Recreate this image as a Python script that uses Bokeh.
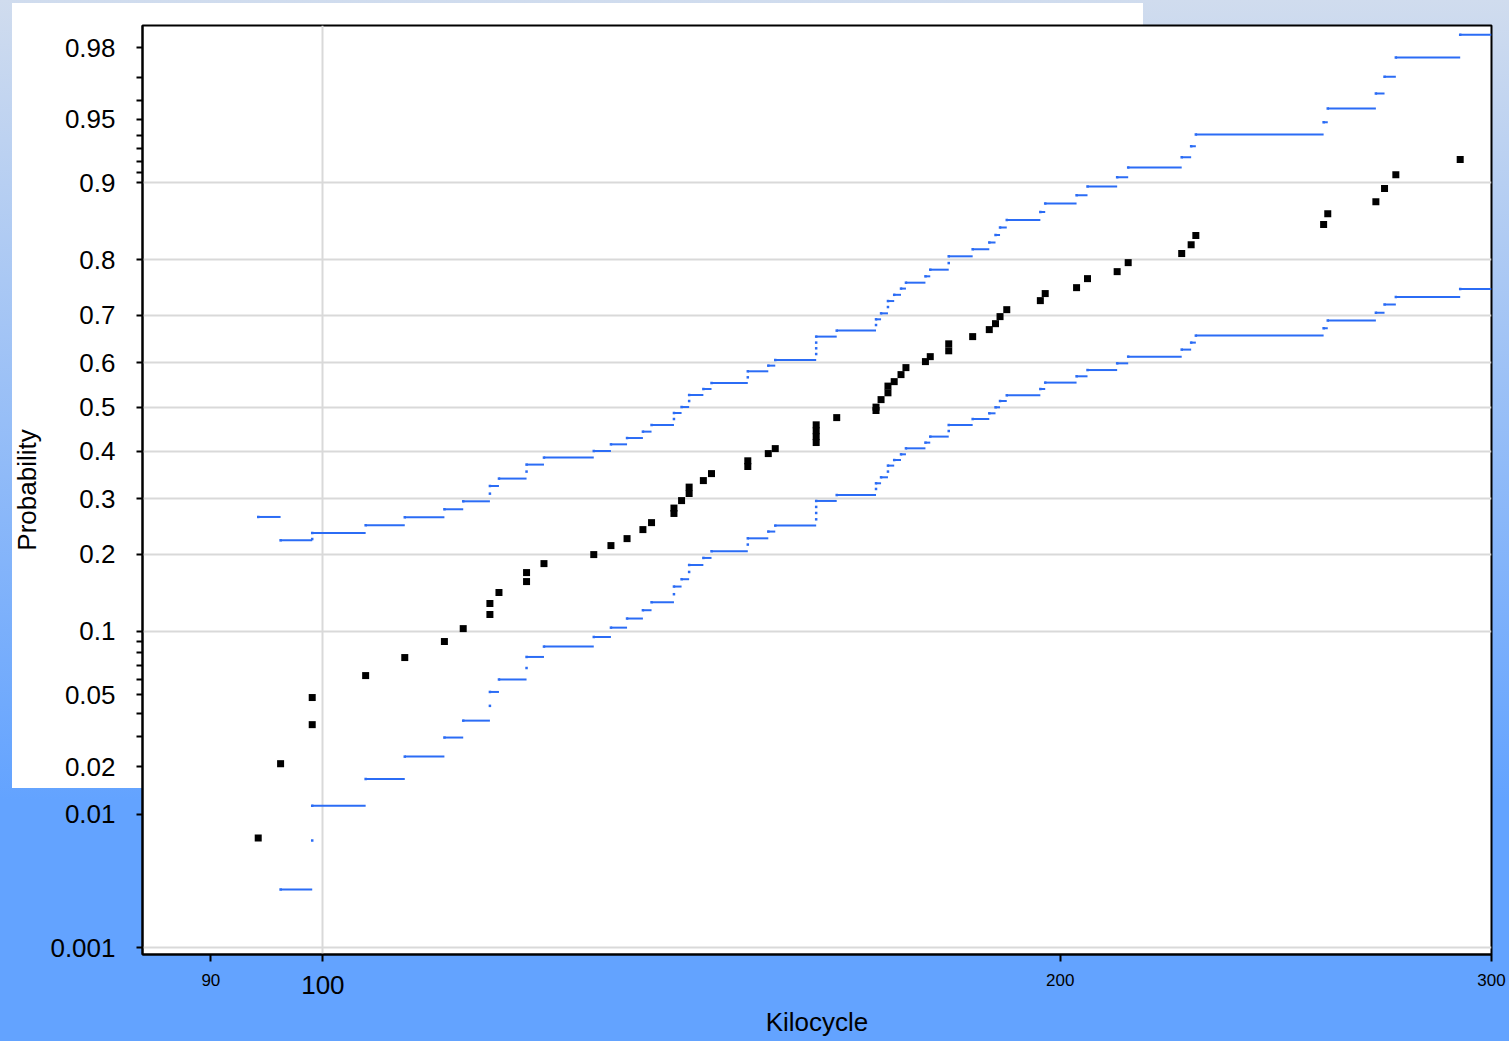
import numpy as np
from statistics import NormalDist

from bokeh.plotting import figure
from bokeh.models import ColumnDataSource, CustomJSTickFormatter, FixedTicker, LogAxis, Range1d
from bokeh.embed import file_html
from bokeh.resources import INLINE

# Failure times (kilocycles) of the plotted units, in order
kilocycles = [
    94.1, 96.1, 99.0, 99.0, 104.1, 108.0, 112.1, 114.1, 117.0, 117.0,
    118.0, 121.1, 121.1, 123.1, 129.0, 131.1, 133.1, 135.1, 136.2, 139.1,
    139.1, 140.1, 141.1, 141.1, 143.0, 144.1, 149.1, 149.1, 152.0, 153.0,
    159.0, 159.0, 159.0, 159.0, 162.1, 168.2, 168.2, 169.0, 170.1, 170.1,
    171.1, 172.2, 173.0, 176.2, 177.0, 180.1, 180.1, 184.2, 187.1, 188.2,
    189.0, 190.2, 196.3, 197.2, 203.1, 205.2, 211.0, 213.2, 224.2, 226.2,
    227.2, 256.2, 257.2, 269.1, 271.3, 274.2, 291.3,
]

# Plotting position (cumulative probability) of each unit
probability = [
    0.0069, 0.0208, 0.0348, 0.0485, 0.0625, 0.0762, 0.0902, 0.1028, 0.1180, 0.1309,
    0.1447, 0.1594, 0.1722, 0.1856, 0.1997, 0.2144, 0.2262, 0.2420, 0.2546, 0.2717,
    0.2820, 0.2966, 0.3108, 0.3238, 0.3373, 0.3520, 0.3672, 0.3795, 0.3953, 0.4063,
    0.4198, 0.4331, 0.4464, 0.4597, 0.4761, 0.4923, 0.5000, 0.5171, 0.5326, 0.5478,
    0.5579, 0.5737, 0.5893, 0.6026, 0.6135, 0.6262, 0.6412, 0.6565, 0.6711, 0.6833,
    0.6975, 0.7112, 0.7286, 0.7418, 0.7526, 0.7686, 0.7806, 0.7955, 0.8099, 0.8234,
    0.8365, 0.8515, 0.8655, 0.8798, 0.8941, 0.9080, 0.9214,
]

# Step confidence band: value held from each unit's time to the next one
upper_bound = [
    0.2651, 0.2233, 0.2255, 0.2360, 0.2498, 0.2645, 0.2797, 0.2952, 0.3105, 0.3261,
    0.3415, 0.3563, 0.3713, 0.3865, 0.4010, 0.4158, 0.4299, 0.4443, 0.4593, 0.4729,
    0.4866, 0.5002, 0.5139, 0.5276, 0.5412, 0.5548, 0.5676, 0.5811, 0.5937, 0.6061,
    0.6192, 0.6316, 0.6438, 0.6565, 0.6690, 0.6805, 0.6921, 0.7040, 0.7163, 0.7278,
    0.7395, 0.7509, 0.7615, 0.7726, 0.7839, 0.7948, 0.8056, 0.8164, 0.8267, 0.8373,
    0.8475, 0.8575, 0.8675, 0.8776, 0.8869, 0.8962, 0.9054, 0.9145, 0.9234, 0.9319,
    0.9403, 0.9482, 0.9561, 0.9635, 0.9705, 0.9771, 0.9833,
]
lower_bound = [
    None, 0.00292, 0.00664, 0.01137, 0.01681, 0.0229, 0.0295, 0.0366, 0.0439, 0.0518,
    0.0598, 0.0680, 0.0767, 0.0856, 0.0945, 0.1038, 0.1135, 0.1229, 0.1324, 0.1425,
    0.1526, 0.1627, 0.1731, 0.1835, 0.1944, 0.2051, 0.2161, 0.2267, 0.2385, 0.2492,
    0.2607, 0.2726, 0.2842, 0.2959, 0.3077, 0.3200, 0.3317, 0.3442, 0.3563, 0.3691,
    0.3812, 0.3937, 0.4069, 0.4196, 0.4331, 0.4457, 0.4593, 0.4729, 0.4859, 0.4996,
    0.5139, 0.5269, 0.5412, 0.5557, 0.5699, 0.5839, 0.5988, 0.6135, 0.6288, 0.6438,
    0.6586, 0.6737, 0.6895, 0.7054, 0.7210, 0.7354, 0.7500,
]

# Axis ticks
prob_ticks = [0.001, 0.01, 0.02, 0.05, 0.1, 0.2, 0.3, 0.4, 0.5, 0.6, 0.7, 0.8, 0.9, 0.95, 0.98]
prob_tick_labels = ["0.001", "0.01", "0.02", "0.05", "0.1", "0.2", "0.3", "0.4", "0.5",
                    "0.6", "0.7", "0.8", "0.9", "0.95", "0.98"]
prob_minor_ticks = [0.03, 0.04, 0.06, 0.07, 0.08, 0.09, 0.91, 0.92, 0.93, 0.94, 0.96, 0.97]
prob_grid = [0.001, 0.1, 0.2, 0.3, 0.4, 0.5, 0.6, 0.7, 0.8, 0.9]
kc_ticks = [90, 100, 200, 300]
kc_tick_labels = ["90", "100", "200", "300"]
kc_big_tick = 100

FONT = "Liberation Sans"
BAND_COLOR = "#2b6cf5"
GRID_COLOR = "#d9d9d9"

_nd = NormalDist()


def probit(values):
    """Normal-probability paper: map cumulative probabilities to z-scores."""
    return np.array([np.nan if v is None else _nd.inv_cdf(v) for v in values], dtype=float)


LABEL_JS = """
    for (let i = 0; i < vals.length; i++) {
        if (Math.abs(vals[i] - tick) < 1e-9) return labels[i];
    }
    return "";
"""

x_start, x_end = 84.4, 300.0
y_start, y_end = _nd.inv_cdf(0.00088), _nd.inv_cdf(0.9854)
p = figure(
    width=1509, height=1041,
    x_axis_type="log",
    x_range=Range1d(x_start, x_end),
    y_range=Range1d(y_start, y_end),
    output_backend="svg", toolbar_location=None,
    min_border_left=142, min_border_right=18, min_border_top=25, min_border_bottom=87,
)
p.border_fill_color = None
p.background_fill_color = "white"
p.outline_line_color = "black"
p.outline_line_width = 2
p.styles = {
    "background": (
        "linear-gradient(#ffffff, #ffffff) 12px 3px / 1131px 785px no-repeat, "
        "linear-gradient(to bottom, #d0dcee 0px, #63a3ff 800px, #63a3ff 100%)"
    )
}

# --- axes -------------------------------------------------------------
xa = p.xaxis[0]          # inner x axis: line, all ticks, large "100"
ya = p.yaxis[0]

big_idx = kc_ticks.index(kc_big_tick)
xa.ticker = FixedTicker(ticks=kc_ticks)
xa.formatter = CustomJSTickFormatter(
    args=dict(vals=[kc_big_tick], labels=[kc_tick_labels[big_idx]]), code=LABEL_JS)

# outer x axis: remaining tick labels in a smaller face, plus the axis title
small_ticks = [t for t in kc_ticks if t != kc_big_tick]
small_labels = [lab for t, lab in zip(kc_ticks, kc_tick_labels) if t != kc_big_tick]
xb = LogAxis(
    ticker=FixedTicker(ticks=small_ticks),
    formatter=CustomJSTickFormatter(args=dict(vals=small_ticks, labels=small_labels), code=LABEL_JS),
)
p.add_layout(xb, "below")

y_tick_z = [float(z) for z in probit(prob_ticks)]
ya.ticker = FixedTicker(ticks=y_tick_z, minor_ticks=[float(z) for z in probit(prob_minor_ticks)])
ya.formatter = CustomJSTickFormatter(args=dict(vals=y_tick_z, labels=prob_tick_labels), code=LABEL_JS)

for ax in (xa, xb, ya):
    ax.axis_line_color = "black"
    ax.axis_line_width = 2
    ax.major_tick_line_width = 2
    ax.minor_tick_line_width = 2
    ax.major_tick_in = 0
    ax.minor_tick_in = 0
    ax.major_label_text_font = FONT
    ax.major_label_text_color = "black"
    ax.axis_label_text_font = FONT
    ax.axis_label_text_font_style = "normal"
    ax.axis_label_text_font_size = "26px"
    ax.axis_label_text_color = "black"

xa.major_tick_out = 7
xa.minor_tick_out = 0
xa.major_label_text_font_size = "26px"
xa.major_label_standoff = 14

xb.axis_line_color = None
xb.major_tick_line_color = None
xb.minor_tick_line_color = None
xb.major_tick_out = 0
xb.minor_tick_out = 0
xb.major_label_text_font_size = "17px"
xb.major_label_standoff = -23
xb.axis_label = "Kilocycle"
xb.axis_label_standoff = 18

ya.major_tick_out = 6
ya.minor_tick_out = 6
ya.major_label_text_font_size = "26px"
ya.major_label_standoff = 21
ya.axis_label = "Probability"
ya.axis_label_standoff = 5

# --- grid -------------------------------------------------------------
p.ygrid.ticker = FixedTicker(ticks=[float(z) for z in probit(prob_grid)])
p.xgrid.ticker = FixedTicker(ticks=[kc_big_tick])
for g in (p.xgrid[0], p.ygrid[0]):
    g.grid_line_color = GRID_COLOR
    g.grid_line_width = 2

# --- confidence band --------------------------------------------------
band = ColumnDataSource(dict(
    x0=np.array(kilocycles, dtype=float),
    x1=np.array(kilocycles[1:] + [x_end], dtype=float),
    up=probit(upper_bound),
    lo=probit(lower_bound),
))
for col in ("up", "lo"):
    p.segment(x0="x0", y0=col, x1="x1", y1=col, source=band,
              line_color=BAND_COLOR, line_width=2)
    p.scatter(x="x0", y=col, source=band, marker="square", size=2.5,
              fill_color=BAND_COLOR, line_color=None)

# --- observed failures -----------------------------------------------
pts = ColumnDataSource(dict(x=np.array(kilocycles, dtype=float), y=probit(probability)))
p.scatter(x="x", y="y", source=pts, marker="square", size=7,
          fill_color="black", line_color=None)

open("out.html", "w").write(file_html(p, INLINE))
